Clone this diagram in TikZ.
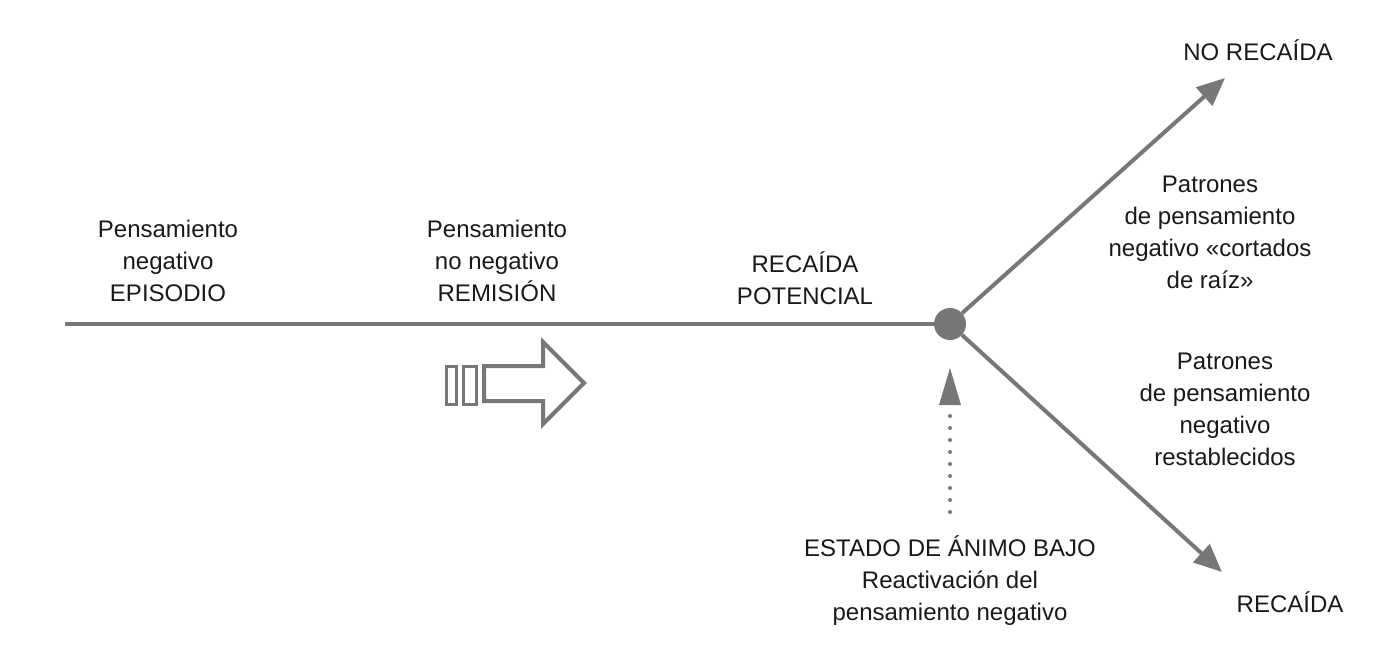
\documentclass[tikz,border=0pt]{standalone}
\usepackage{fontspec}
\setmainfont{Liberation Sans}
\usetikzlibrary{arrows.meta}
\definecolor{g}{HTML}{777777}
\begin{document}
\begin{tikzpicture}[x=1pt,y=-1pt,
 lbl/.style={align=center,font=\fontsize{24}{32}\selectfont,text=black!90,inner sep=0pt},
 ln/.style={draw=g,line width=4pt},
 tip/.style={-{Triangle[length=28pt,width=24pt]}}]
\useasboundingbox (0,0) rectangle (1396,662);
\coordinate (s) at (65,324);
\node[circle,fill=g,minimum size=32pt,inner sep=0pt] (d) at (950,324) {};
\coordinate (up) at (1225,78);
\coordinate (dn) at (1222,572);
\draw[ln] (s) -- (d);
\draw[ln,tip] (d) -- (up);
\draw[ln,tip] (d) -- (dn);
\coordinate (b) at (950,512);
\coordinate (t) at (950,368);
\draw[g,line width=4pt,dash pattern=on 0pt off 12pt,line cap=round] (b) -- (950,405);
\fill[g] (t) -- (939,405) -- (961,405) -- cycle;
% hollow arrow
\draw[g,line width=3pt] (446,366) rectangle (456,404);
\draw[g,line width=3pt] (463,366) rectangle (476,404);
\draw[g,line width=4pt,line join=miter] (484,366) -- (543,366) -- (543,342) -- (584,383) -- (543,424) -- (543,401) -- (484,401) -- cycle;
\node[lbl] (n1) at (168,261) {Pensamiento\\negativo\\EPISODIO};
\node[lbl] (n2) at (497,261) {Pensamiento\\no negativo\\REMISIÓN};
\node[lbl] (n3) at (805,278) {RECAÍDA\\POTENCIAL};
\node[lbl] (n4) at (1258,50) {NO RECAÍDA};
\node[lbl] (n5) at (1210,232) {Patrones\\de pensamiento\\negativo «cortados\\de raíz»};
\node[lbl] (n6) at (1225,409) {Patrones\\de pensamiento\\negativo\\restablecidos};
\node[lbl] (n7) at (950,581) {ESTADO DE ÁNIMO BAJO\\Reactivación del\\pensamiento negativo};
\node[lbl] (n8) at (1290,602) {RECAÍDA};
\end{tikzpicture}
\end{document}
